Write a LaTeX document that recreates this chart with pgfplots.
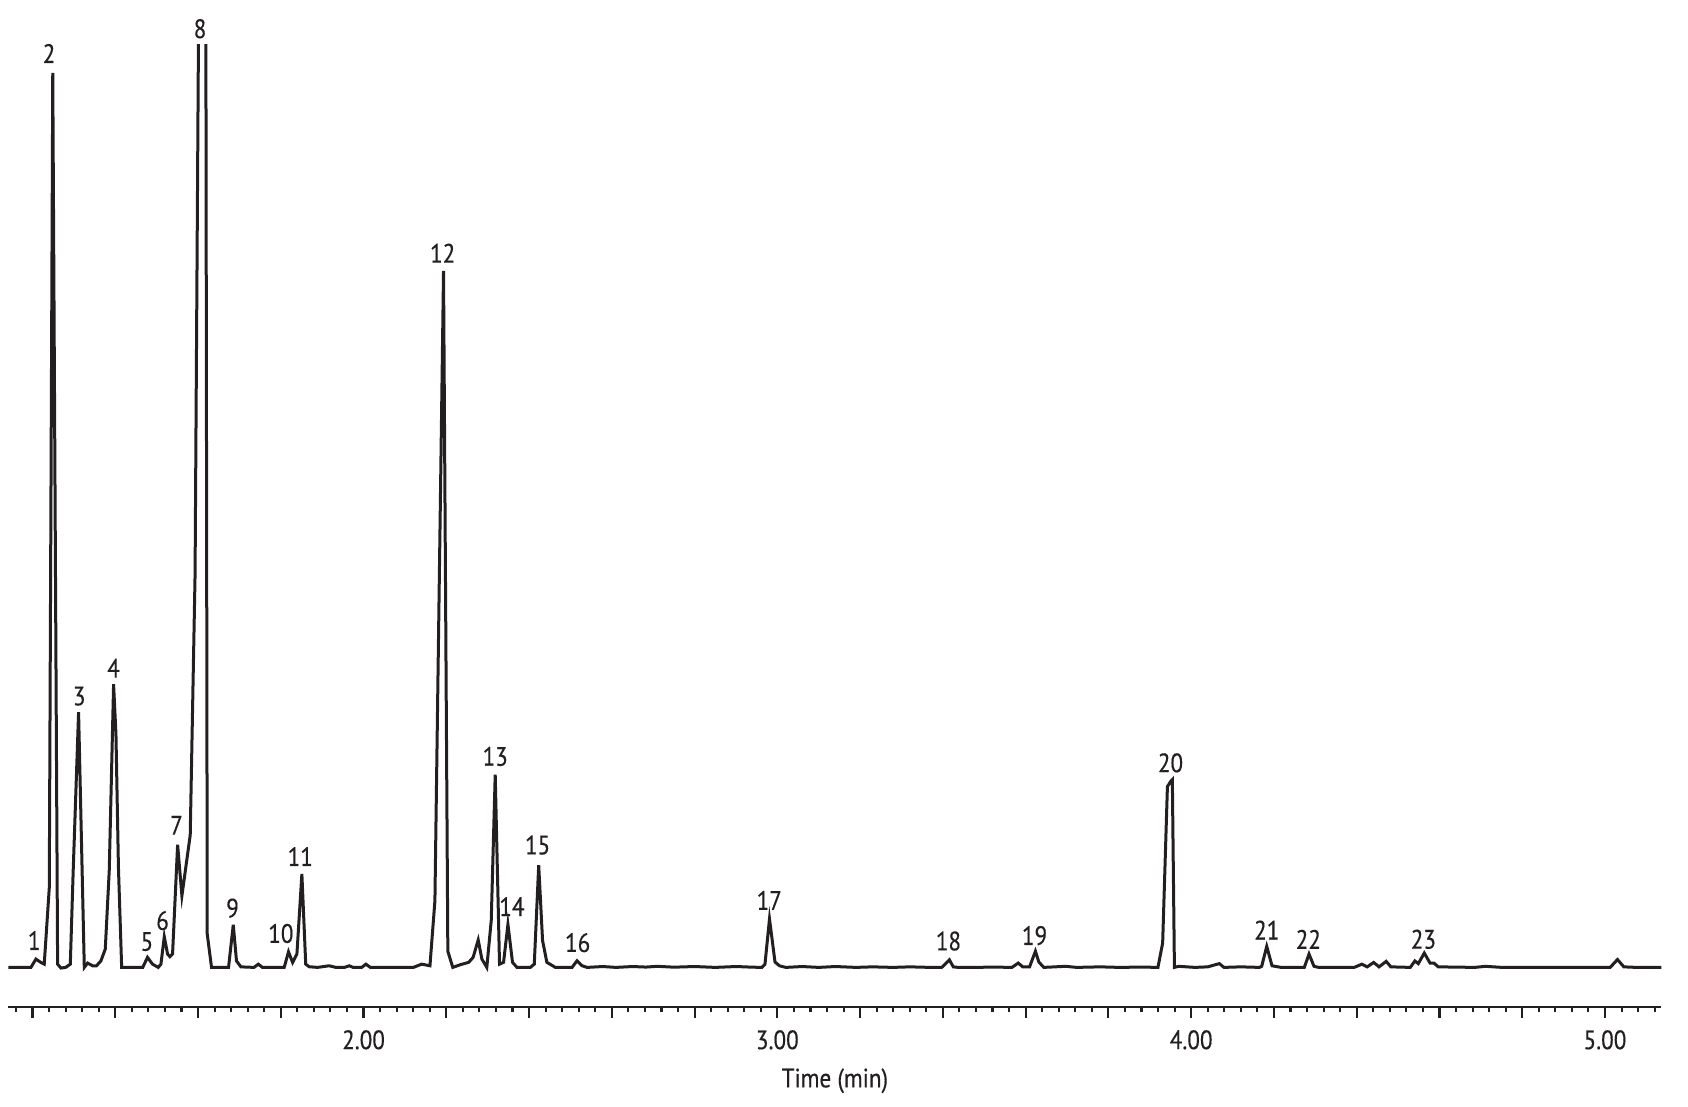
\documentclass[border=0pt]{standalone}
\usepackage{pgfplots}
\pgfplotsset{compat=1.18}
\usepackage{fontspec}
\setmainfont{PT Sans}[FakeStretch=0.87,FakeBold=0.4]
\definecolor{ink}{RGB}{35,31,32}
\newcommand{\lf}{\fontsize{13.3}{15}\selectfont}
\begin{document}
\begin{tikzpicture}[font=\lf]
\useasboundingbox (0,0) rectangle (844pt,553.5pt);
\begin{axis}[
  at={(4.2pt,50.1pt)}, anchor=south west,
  width=826.45pt, height=480.9pt, scale only axis,
  xmin=1.1418, xmax=5.1361, ymin=-36.6, ymax=856.9,
  axis y line=none, axis x line*=bottom,
  axis line style={ink, line width=1.2pt},
  clip mode=individual,
  tick align=outside,
  xtick={2,3,4,5}, xticklabels={2.00,3.00,4.00,5.00},
  extra x ticks={1.2,1.4,1.6,1.8,2.2,2.4,2.6,2.8,3.2,3.4,3.6,3.8,4.2,4.4,4.6,4.8},
  extra x tick labels={},
  minor xtick={1.16,1.2,...,5.13},
  major tick length=5.7pt, minor tick length=2.8pt,
  every tick/.style={ink, line width=1.05pt},
  xticklabel style={font=\lf, text=ink, inner sep=0pt, anchor=north, yshift=-5.8pt},
  xlabel={Time (min)},
  xlabel style={at={(axis description cs:0.5,0)}, anchor=north, inner sep=0pt, yshift=-30.6pt, font=\lf, text=ink},
]
\addplot[ink, line width=1.5pt, mark=none] coordinates {
(1.1418,0) (1.1962,0) (1.2084,7.7) (1.2203,4.6) (1.2284,3) (1.2406,74) (1.2490,831)
(1.2607,3) (1.2687,-0.6) (1.2802,0) (1.2914,3) (1.2984,90) (1.3114,237) (1.3252,0)
(1.3333,4) (1.3452,1.5) (1.3548,1.5) (1.3653,6) (1.3759,17) (1.3855,90) (1.3960,263)
(1.4017,217) (1.4077,93) (1.4155,0) (1.4665,0) (1.4779,9.3) (1.4901,3) (1.5039,0)
(1.5104,3) (1.5185,28.5) (1.5265,12.4) (1.5320,10) (1.5385,12.4) (1.5507,114)
(1.5611,66.6) (1.5812,123) (1.5929,365) (1.6017,900) (1.6189,900) (1.6223,31)
(1.6327,0) (1.6738,0) (1.6852,39.6) (1.6930,6) (1.7037,0.5) (1.7354,0) (1.7458,3)
(1.7557,0) (1.8083,0) (1.8187,14.5) (1.8286,4.6) (1.8390,12.4) (1.8510,86.7)
(1.8603,3) (1.8686,0.6) (1.8889,0) (1.9170,1.5) (1.9331,0) (1.9540,0) (1.9654,1.5)
(1.9748,0) (1.9956,0) (2.0057,3) (2.0164,0) (2.1204,0) (2.1405,3) (2.1605,1.5)
(2.1725,62) (2.1933,647) (2.2037,15) (2.2157,0) (2.2339,2.5) (2.2542,4.7)
(2.2648,9.3) (2.2771,25.5) (2.2859,7.8) (2.2979,0) (2.3086,43.6) (2.3182,179)
(2.3286,3) (2.3384,4.7) (2.3489,40) (2.3600,4.7) (2.3707,0) (2.4030,0) (2.4126,3)
(2.4233,95) (2.4326,25) (2.4430,4.7) (2.4636,0) (2.5039,0) (2.5159,6.2) (2.5281,1.5)
(2.5403,0) (2.5783,0.8) (2.6100,0) (2.6500,0.8) (2.6824,0.3) (2.7100,1) (2.7500,0.2)
(2.8000,0.8) (2.8500,0) (2.9000,0.8) (2.9400,0.2) (2.9626,0) (2.9701,3) (2.9810,45)
(2.9943,5) (3.0050,1.5) (3.0206,0) (3.0600,0.8) (3.1000,0) (3.1400,0.8) (3.1900,0)
(3.2300,0.5) (3.2800,0) (3.3200,0.5) (3.3700,0) (3.3972,0) (3.4158,7) (3.4251,0.5)
(3.4368,0) (3.4800,0) (3.5200,0.3) (3.5669,0) (3.5820,4) (3.5930,0.5) (3.6095,0.5)
(3.6236,15) (3.6319,5) (3.6438,0) (3.6970,1) (3.7229,0) (3.7800,0.5) (3.8270,0)
(3.8800,0.3) (3.9197,0) (3.9311,22.7) (3.9426,168) (3.9506,172.8) (3.9545,174.4)
(3.9595,0) (3.9700,1) (4.0091,0) (4.0400,0.5) (4.0680,3.5) (4.0793,0) (4.1200,0.5)
(4.1652,0) (4.1704,1) (4.1826,19.5) (4.1954,1.5) (4.2173,0) (4.2734,0) (4.2848,12.4)
(4.2968,1) (4.3083,0) (4.3941,0) (4.4124,3) (4.4254,0.5) (4.4410,4.6) (4.4540,0.5)
(4.4712,5.6) (4.4826,0.5) (4.5295,0) (4.5406,6) (4.5489,3.5) (4.5633,13.3)
(4.5773,4) (4.5867,4) (4.5971,0.5) (4.6855,0) (4.7111,1) (4.7505,0) (4.8500,0)
(4.9500,0) (5.0125,0) (5.0302,7.3) (5.0455,0.5) (5.0757,0) (5.1361,0)
};
\begin{scope}[every node/.style={font=\lf, text=ink, inner sep=0pt, anchor=center}]
\node at (axis cs:1.204,25) {1};
\node at (axis cs:1.240,849) {2};
\node at (axis cs:1.3130,252) {3};
\node at (axis cs:1.3960,278) {4};
\node at (axis cs:1.4766,24) {5};
\node at (axis cs:1.5143,43.5) {6};
\node at (axis cs:1.5481,132) {7};
\node at (axis cs:1.6049,872) {8};
\node at (axis cs:1.6834,55) {9};
\node at (axis cs:1.8002,31.5) {10};
\node at (axis cs:1.8471,103) {11};
\node at (axis cs:2.1912,663.5) {12};
\node at (axis cs:2.3182,196) {13};
\node at (axis cs:2.3585,56.5) {14};
\node at (axis cs:2.4207,113.7) {15};
\node at (axis cs:2.5174,23) {16};
\node at (axis cs:2.9805,62.3) {17};
\node at (axis cs:3.4134,24.5) {18};
\node at (axis cs:3.6215,29.5) {19};
\node at (axis cs:3.9500,190) {20};
\node at (axis cs:4.1826,34.7) {21};
\node at (axis cs:4.2831,26.1) {22};
\node at (axis cs:4.5612,26.1) {23};
\end{scope}
\end{axis}
\end{tikzpicture}
\end{document}
